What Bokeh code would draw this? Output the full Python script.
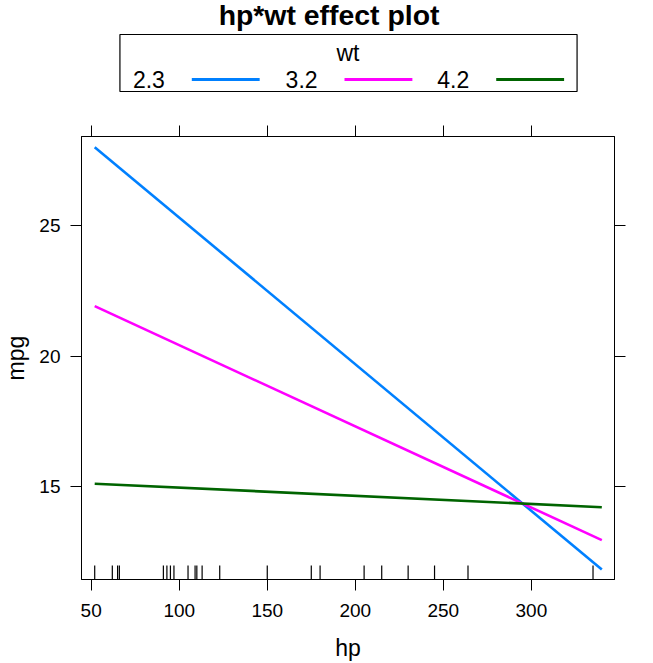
from bokeh.plotting import figure
from bokeh.models import Range1d, LinearAxis, FixedTicker, ColumnDataSource, CustomLabelingPolicy
from bokeh.layouts import column
from bokeh.embed import file_html
from bokeh.resources import INLINE
from bokeh.core.properties import value

# ---------------- data ----------------
title_text = "hp*wt effect plot"
legend_title = "wt"
wt_levels = ["2.3", "3.2", "4.2"]
wt_colors = ["#0080ff", "#ff00ff", "#006400"]
hp_line = [52, 340]
mpg_wt23 = [28.0, 11.82]
mpg_wt32 = [21.91, 12.95]
mpg_wt42 = [15.11, 14.21]
rug_hp = [52, 62, 65, 66, 91, 93, 95, 97, 105, 109, 110, 113, 123, 150,
          175, 180, 205, 215, 230, 245, 264, 335]
x_ticks = [50, 100, 150, 200, 250, 300]
y_ticks = [15, 20, 25]
x_label = "hp"
y_label = "mpg"

FONT = "Liberation Sans"
W, H = 653, 663
HEAD_H = 100
ML, MR, MT, MB = 80, 39, 36, 84   # main panel borders
TXT_SHIFT = 8                     # svg text baseline correction in header

# ---------------- header (title + key) ----------------
head = figure(width=W, height=HEAD_H, x_range=Range1d(ML, W - MR), y_range=Range1d(HEAD_H, 0),
              toolbar_location=None, output_backend="svg",
              x_axis_location=None, y_axis_location=None,
              min_border_left=ML, min_border_right=MR, min_border_top=0, min_border_bottom=0,
              outline_line_color=None)
head.grid.visible = False

head.text(x=[328], y=[22 - TXT_SHIFT], text=[title_text], text_font=value(FONT),
          text_font_size="28.4px", text_font_style="bold", text_align="center",
          text_baseline="alphabetic", text_color="black")
head.quad(left=[118.5], right=[576.5], top=[34], bottom=[91], fill_color=None,
          line_color="black", line_width=1.2)
head.text(x=[347], y=[60 - TXT_SHIFT], text=[legend_title], text_font=value(FONT),
          text_font_size="23px", text_align="center", text_baseline="alphabetic",
          text_color="black")
item_x0 = [131.5, 284.5, 436.5]
head.text(x=item_x0, y=[87.3 - TXT_SHIFT] * 3, text=wt_levels, text_font=value(FONT),
          text_font_size="23px", text_align="left", text_baseline="alphabetic",
          text_color="black")
head.segment(x0=[x + 59 for x in item_x0], x1=[x + 127 for x in item_x0],
             y0=[79] * 3, y1=[79] * 3, line_color=wt_colors, line_width=3)

# ---------------- main panel ----------------
x_lo, x_hi = 44.5, 347.2
y_lo, y_hi = 11.44, 28.41
p = figure(width=W, height=H - HEAD_H, x_range=Range1d(x_lo, x_hi),
           y_range=Range1d(y_lo, y_hi), toolbar_location=None,
           output_backend="svg", x_axis_location=None, y_axis_location=None,
           min_border_left=ML, min_border_right=MR, min_border_top=MT,
           min_border_bottom=MB, outline_line_color="black", outline_line_width=1)
p.grid.visible = False

hide_all = CustomLabelingPolicy(code="for (const i of indices) indices.unset(i); return indices")


def style_axis(ax, ticks, show_labels, label=None, tick_standoff=10, label_standoff=10):
    ax.ticker = FixedTicker(ticks=ticks)
    ax.major_tick_out = 11
    ax.major_tick_in = 0
    ax.minor_tick_out = 0
    ax.minor_tick_in = 0
    ax.axis_line_color = "black"
    ax.major_tick_line_color = "black"
    ax.major_label_text_font = FONT
    ax.major_label_text_color = "black"
    if show_labels:
        ax.major_label_text_font_size = "19px"
        ax.major_label_standoff = tick_standoff
    else:
        ax.major_label_text_font_size = "1px"
        ax.major_label_standoff = 0
        ax.major_label_policy = hide_all
    if label:
        ax.axis_label = label
        ax.axis_label_text_font = FONT
        ax.axis_label_text_font_size = "23px"
        ax.axis_label_text_font_style = "normal"
        ax.axis_label_text_color = "black"
        ax.axis_label_standoff = label_standoff


bx = LinearAxis(); style_axis(bx, x_ticks, True, x_label, 13, 15); p.add_layout(bx, "below")
ly = LinearAxis(); style_axis(ly, y_ticks, True, y_label, 10, 7); p.add_layout(ly, "left")
tx = LinearAxis(); style_axis(tx, x_ticks, False); p.add_layout(tx, "above")
ry = LinearAxis(); style_axis(ry, y_ticks, False); p.add_layout(ry, "right")

for ys, col in zip([mpg_wt23, mpg_wt32, mpg_wt42], wt_colors):
    p.line(x=hp_line, y=ys, line_color=col, line_width=2.6)

# rug along the bottom (14 px tall)
frame_h = (H - HEAD_H) - MT - MB
rug_top = y_lo + 14 * (y_hi - y_lo) / frame_h
rug = ColumnDataSource(dict(x=rug_hp, y0=[y_lo] * len(rug_hp), y1=[rug_top] * len(rug_hp)))
p.segment(x0="x", x1="x", y0="y0", y1="y1", source=rug, line_color="black", line_width=1.2)

layout = column(head, p, spacing=0)
open("out.html", "w").write(file_html(layout, INLINE))
